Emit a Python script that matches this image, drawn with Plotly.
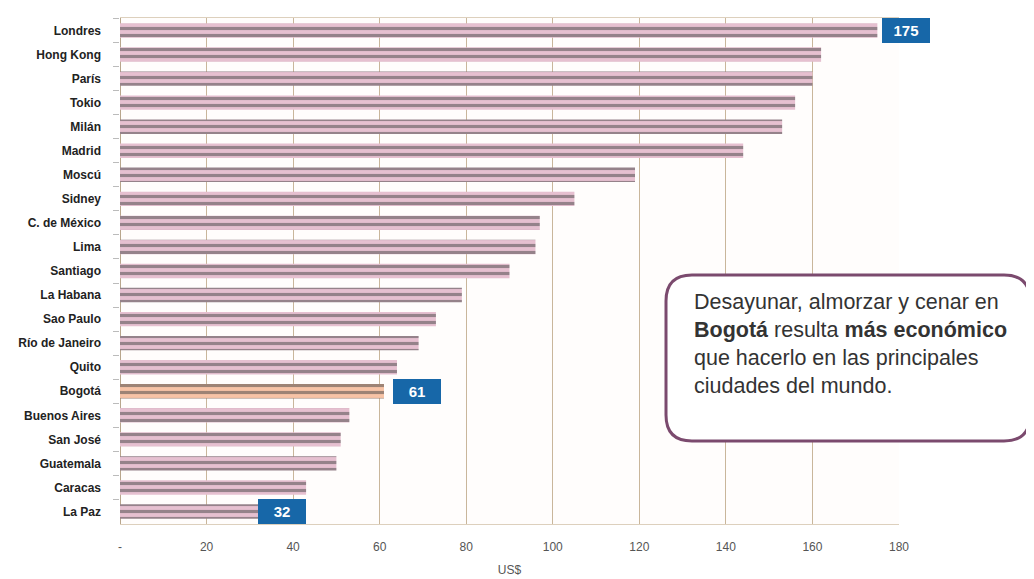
import plotly.graph_objects as go

cities = ["Londres", "Hong Kong", "París", "Tokio", "Milán", "Madrid", "Moscú", "Sidney",
          "C. de México", "Lima", "Santiago", "La Habana", "Sao Paulo", "Río de Janeiro",
          "Quito", "Bogotá", "Buenos Aires", "San José", "Guatemala", "Caracas", "La Paz"]
values = [175, 162, 160, 156, 153, 144, 119, 105, 97, 96, 90, 79, 73, 69, 64, 61, 53, 51, 50, 43, 32]
highlight = "Bogotá"
badges = {"Londres": "175", "Bogotá": "61", "La Paz": "32"}
x_ticks = [0, 20, 40, 60, 80, 100, 120, 140, 160, 180]
x_ticktext = ["-", "20", "40", "60", "80", "100", "120", "140", "160", "180"]

FONT = "Liberation Sans, Arial, sans-serif"

fg = ["#e8794f" if c == highlight else "#9a6382" for c in cities]
bg = ["#f7c3a6" if c == highlight else "#e6c0d0" for c in cities]

fig = go.Figure()
fig.add_trace(go.Bar(
    y=cities, x=values, orientation="h", width=0.6,
    marker=dict(color=bg, line=dict(width=0),
                pattern=dict(shape="-", fgcolor=fg, bgcolor=bg, size=7, solidity=0.45)),
    hoverinfo="x+y", showlegend=False,
))

# the page body adds an 8px offset; compensate so the plot lands where intended
OFF = 8
W, H = 1026, 571
L, R, T, B = 112, 135, 10, 55
pw, ph = W - L - R, H - T - B

shifts = {"Londres": 5, "Bogotá": 9, "La Paz": 0}
for c, txt in badges.items():
    v = values[cities.index(c)]
    fig.add_annotation(x=v, y=c, xref="x", yref="y", text="<b>" + txt + "</b>",
                       showarrow=False, xanchor="left", xshift=shifts[c],
                       font=dict(family=FONT, size=15, color="white"),
                       bgcolor="#1767a8", bordercolor="#1767a8", borderwidth=1,
                       borderpad=3, width=40)

# callout box (rounded rectangle); coordinates given as page pixels
def px(x):
    return (x - OFF - L) / pw
def py(y):
    return 1 - (y - OFF - T) / ph
x0, x1, y0, y1, r = 666, 1030, 275, 441, 26
path = (f"M {px(x0 + r)} {py(y0)} L {px(x1 - r)} {py(y0)} "
        f"Q {px(x1)} {py(y0)} {px(x1)} {py(y0 + r)} "
        f"L {px(x1)} {py(y1 - r)} Q {px(x1)} {py(y1)} {px(x1 - r)} {py(y1)} "
        f"L {px(x0 + r)} {py(y1)} Q {px(x0)} {py(y1)} {px(x0)} {py(y1 - r)} "
        f"L {px(x0)} {py(y0 + r)} Q {px(x0)} {py(y0)} {px(x0 + r)} {py(y0)} Z")
fig.add_shape(type="path", path=path, xref="paper", yref="paper",
              line=dict(color="#7b4a6e", width=3), fillcolor="white", layer="above")
fig.add_annotation(x=px(692), y=py(288), xref="paper", yref="paper",
                   xanchor="left", yanchor="top", align="left", showarrow=False,
                   text=("Desayunar, almorzar y cenar en<br>"
                         "<b>Bogotá</b> resulta <b>más económico</b><br>"
                         "que hacerlo en las principales<br>"
                         "ciudades del mundo."),
                   font=dict(family=FONT, size=21.5, color="#333333"))

fig.update_layout(
    width=W, height=H,
    margin=dict(l=L, r=R, t=T, b=B, autoexpand=False),
    paper_bgcolor="white", plot_bgcolor="#fffdfc",
    xaxis=dict(range=[0, 180], tickvals=x_ticks, ticktext=x_ticktext,
               showgrid=True, gridcolor="#c9b69b", gridwidth=1,
               zeroline=True, zerolinecolor="#b8a68c", zerolinewidth=1,
               showline=True, linecolor="#ddd0bd", mirror=True, automargin=False,
               ticks="", ticklabelstandoff=12,
               tickfont=dict(family=FONT, size=12, color="#555555"),
               title=dict(text="US$", font=dict(family=FONT, size=12, color="#555555"), standoff=12)),
    yaxis=dict(autorange="reversed", showgrid=False, zeroline=False, automargin=False,
               ticks="outside", tickson="boundaries", ticklen=6, tickcolor="#bbbbbb",
               ticklabelstandoff=18,
               tickfont=dict(family=FONT, size=12, color="#222222", weight="bold")),
    font=dict(family=FONT),
)

fig.write_html("out.html")
